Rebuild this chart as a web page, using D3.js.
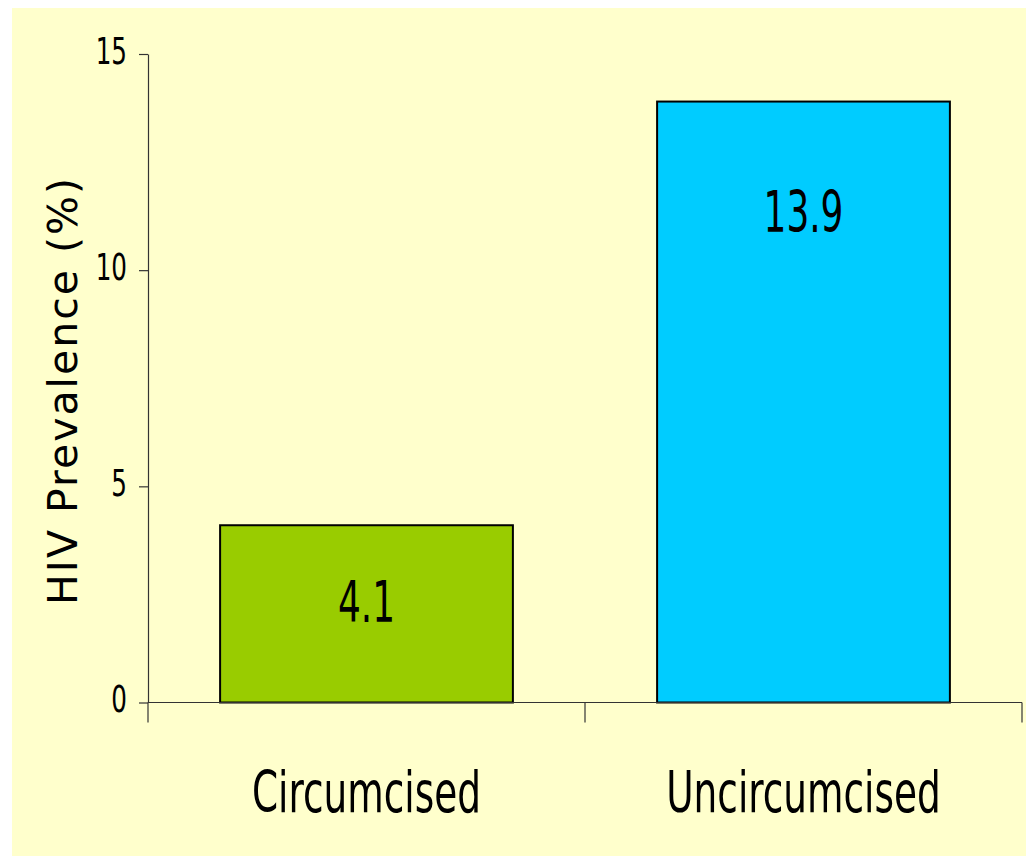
<!DOCTYPE html>
<html>
<head>
<meta charset="utf-8">
<script src="https://cdn.jsdelivr.net/npm/d3@7"></script>
<style>
  html, body { margin: 0; padding: 0; background: #ffffff; }
  svg { display: block; }
  .cond { font-family: "DejaVu Sans Condensed", "Liberation Sans Narrow", "Liberation Sans", sans-serif; fill: #000; }
</style>
</head>
<body>
<svg id="chart" width="1026" height="856"></svg>
<script>
const categories = ["Circumcised", "Uncircumcised"];
const values = [4.1, 13.9];
const valueLabels = ["4.1", "13.9"];
const yTicks = [0, 5, 10, 15];
const yTitle = "HIV Prevalence (%)";
const barColors = ["#99CC00", "#00CCFF"];

const svg = d3.select("#chart");
const W = 1026, H = 856;

// background panel
svg.append("rect").attr("x", 12).attr("y", 8).attr("width", W - 12).attr("height", H - 8)
  .attr("fill", "#FFFFCC");

const plot = { left: 148, right: 1022, top: 54, bottom: 702.5 };

const x = d3.scaleBand().domain(categories)
  .range([plot.left, plot.right])
  .paddingInner(0.33).paddingOuter(0.165);
const y = d3.scaleLinear().domain([0, 15]).range([plot.bottom, plot.top]);

const HS_CAT = 0.73, HS_VAL = 0.70, HS_TICK = 0.74;

// bars
svg.append("g").selectAll("rect").data(values).join("rect")
  .attr("x", (d, i) => x(categories[i]))
  .attr("width", x.bandwidth())
  .attr("y", d => y(d))
  .attr("height", d => y(0) - y(d))
  .attr("fill", (d, i) => barColors[i])
  .attr("stroke", "#000").attr("stroke-width", 2);

// value labels
const labelOffsets = [97, 130];
svg.append("g").selectAll("text").data(values).join("text")
  .attr("class", "cond")
  .attr("transform", (d, i) => `translate(${x(categories[i]) + x.bandwidth() / 2},${y(d) + labelOffsets[i]}) scale(${HS_VAL},1)`)
  .attr("text-anchor", "middle")
  .attr("font-size", 57)
  .text((d, i) => valueLabels[i]);

// y axis
const yAxis = svg.append("g")
  .attr("transform", `translate(${plot.left},0)`)
  .call(d3.axisLeft(y).tickValues(yTicks).tickSize(9).tickSizeOuter(0).tickPadding(0).tickFormat(d3.format("d")));
yAxis.select(".domain").attr("stroke", "#333").attr("stroke-width", 1.2);
yAxis.selectAll(".tick line").attr("stroke", "#333").attr("stroke-width", 1.2);
yAxis.selectAll(".tick text")
  .attr("class", "cond")
  .attr("font-size", 37)
  .attr("x", null).attr("dy", null)
  .attr("text-anchor", "end")
  .attr("transform", `translate(-21,9) scale(${HS_TICK},1)`);

// x axis line
const xAxisG = svg.append("g");
xAxisG.append("line")
  .attr("x1", plot.left).attr("x2", plot.right)
  .attr("y1", y(0)).attr("y2", y(0))
  .attr("stroke", "#333").attr("stroke-width", 1.2);
const boundaries = d3.range(categories.length + 1).map(i => x.range()[0] + i * x.step());
xAxisG.selectAll("line.tick").data(boundaries).join("line")
  .attr("class", "tick")
  .attr("x1", d => d).attr("x2", d => d)
  .attr("y1", y(0)).attr("y2", y(0) + 20)
  .attr("stroke", "#333").attr("stroke-width", 1.2);

// category labels
xAxisG.selectAll("text").data(categories).join("text")
  .attr("class", "cond")
  .attr("transform", d => `translate(${x(d) + x.bandwidth() / 2},812) scale(${HS_CAT},1)`)
  .attr("text-anchor", "middle")
  .attr("font-size", 57)
  .text(d => d);

// y title
svg.append("text")
  .attr("transform", `translate(77,391.5) rotate(-90)`)
  .attr("text-anchor", "middle")
  .attr("font-family", "'DejaVu Sans', sans-serif")
  .attr("font-size", 41)
  .attr("fill", "#000")
  .attr("textLength", 427)
  .attr("lengthAdjust", "spacing")
  .text(yTitle);
</script>
</body>
</html>
